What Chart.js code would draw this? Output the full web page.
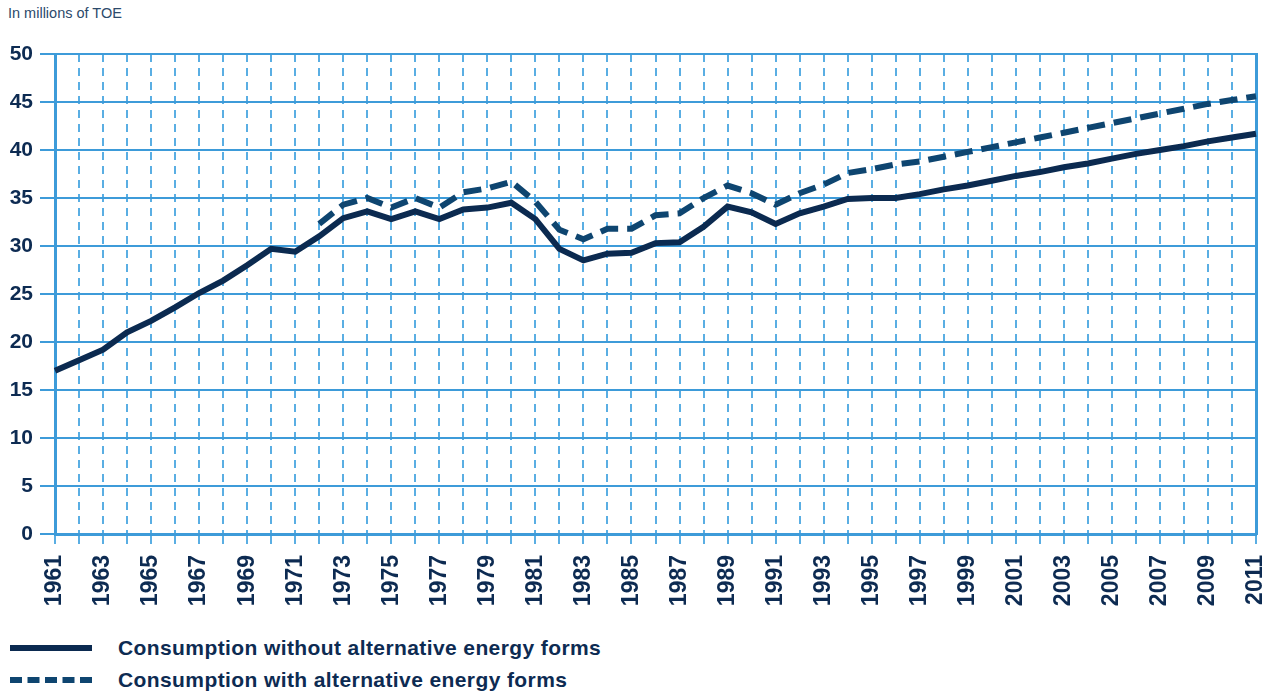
<!DOCTYPE html>
<html>
<head>
<meta charset="utf-8">
<script src="https://cdn.jsdelivr.net/npm/chart.js@4/dist/chart.umd.min.js"></script>
<style>
  body { margin: 0; background: #fff; width: 1276px; height: 698px; position: relative; overflow: hidden; font-family: "Liberation Sans", Arial, sans-serif; }
  #unit { position: absolute; left: 8px; top: 5px; font: 14.5px "Liberation Sans", sans-serif; color: #2c4a6b; }
  #wrap { position: absolute; left: 0; top: 0; width: 1276px; height: 620px; }
  .leg { position: absolute; left: 10px; height: 24px; display: flex; align-items: center; }
  .leg .sw { width: 82px; height: 0; }
  .leg span { position: absolute; left: 108px; white-space: nowrap; font: bold 21px "Liberation Sans", Arial, sans-serif; letter-spacing: 0.4px; color: #0d2b52; }
</style>
</head>
<body>
<div id="unit">In millions of TOE</div>
<div id="wrap"><canvas id="energyChart"></canvas></div>
<div class="leg" style="top:636px"><div class="sw" style="border-top:6px solid #0b2a50"></div><span>Consumption without alternative energy forms</span></div>
<div class="leg" style="top:668px"><div class="sw" style="border-top:6px dashed #0e4570"></div><span>Consumption with alternative energy forms</span></div>

<script>
// 연도
const years = [];
for (let y = 1961; y <= 2011; y++) years.push(String(y));

// 대체 에너지 제외 소비량
const withoutAlt = [
  17.0, 18.1, 19.2, 21.0, 22.2, 23.6, 25.1, 26.4, 28.0, 29.7,
  29.4, 31.0, 32.9, 33.6, 32.8, 33.6, 32.8, 33.8, 34.0, 34.5,
  32.8, 29.7, 28.5, 29.2, 29.3, 30.3, 30.4, 32.0, 34.1, 33.5,
  32.3, 33.4, 34.1, 34.9, 35.0, 35.0, 35.4, 35.9, 36.3, 36.8,
  37.3, 37.7, 38.2, 38.6, 39.1, 39.6, 40.0, 40.4, 40.9, 41.3,
  41.7
];

// 대체 에너지 포함 소비량 (1972년부터)
const withAlt = [
  null, null, null, null, null, null, null, null, null, null,
  null, 32.3, 34.3, 35.0, 34.0, 35.0, 34.0, 35.6, 36.0, 36.7,
  34.6, 31.7, 30.7, 31.8, 31.8, 33.2, 33.4, 35.0, 36.3, 35.5,
  34.3, 35.5, 36.4, 37.6, 38.0, 38.5, 38.8, 39.3, 39.8, 40.3,
  40.8, 41.3, 41.8, 42.3, 42.8, 43.3, 43.8, 44.3, 44.8, 45.2,
  45.6
];

const yTicks = [0, 5, 10, 15, 20, 25, 30, 35, 40, 45, 50];

const gridBlue = '#3d9bd9';
const labelColor = '#0d2b52';

new Chart(document.getElementById('energyChart'), {
  type: 'line',
  data: {
    labels: years,
    datasets: [
      {
        label: 'Consumption with alternative energy forms',
        data: withAlt,
        borderColor: '#0e4570',
        borderWidth: 6,
        borderDash: [18, 9],
        pointRadius: 0,
        tension: 0,
        fill: false
      },
      {
        label: 'Consumption without alternative energy forms',
        data: withoutAlt,
        borderColor: '#0b2a50',
        borderWidth: 6,
        pointRadius: 0,
        tension: 0,
        fill: false
      }
    ]
  },
  options: {
    responsive: true,
    maintainAspectRatio: false,
    animation: false,
    layout: { padding: { top: 54, right: 20, left: 0, bottom: 0 } },
    plugins: {
      legend: { display: false },
      tooltip: { enabled: false }
    },
    scales: {
      x: {
        type: 'category',
        offset: false,
        afterFit: (s) => { s.height = 86; s.paddingRight = 0; s.paddingLeft = 0; },
        grid: {
          color: '#5aaee3',
          lineWidth: 2,
          tickLength: 16,
          tickColor: '#5aaee3',
          tickWidth: 2,
          tickBorderDash: [8, 6],
          offset: false
        },
        border: { display: true, color: gridBlue, width: 3, dash: [8, 6] },
        ticks: {
          autoSkip: false,
          maxRotation: 90,
          minRotation: 90,
          padding: 5,
          color: labelColor,
          font: { family: '"Liberation Sans", Arial, sans-serif', size: 23, weight: 'bold' },
          callback: function(value, index) {
            return index % 2 === 0 ? this.getLabelForValue(value) : '';
          }
        }
      },
      y: {
        min: 0,
        max: 50,
        afterFit: (s) => { s.width = 55; },
        afterBuildTicks: (s) => { s.ticks = yTicks.map(v => ({ value: v })); },
        grid: {
          color: gridBlue,
          lineWidth: 2,
          tickLength: 15,
          tickColor: gridBlue,
          tickWidth: 2
        },
        border: { display: true, color: gridBlue, width: 3 },
        ticks: {
          padding: 7,
          color: labelColor,
          font: { family: '"Liberation Sans", Arial, sans-serif', size: 21, weight: 'bold' }
        }
      },
      yRight: {
        position: 'right',
        min: 0,
        max: 50,
        afterFit: (s) => { s.width = 0; },
        grid: { display: false, drawTicks: false },
        border: { display: true, color: gridBlue, width: 3 },
        ticks: { display: false }
      }
    }
  }
});
</script>
</body>
</html>
